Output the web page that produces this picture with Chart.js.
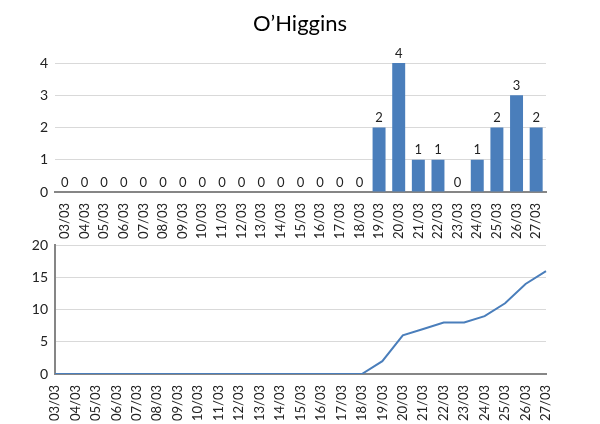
<!DOCTYPE html>
<html>
<head>
<meta charset="utf-8">
<script src="https://cdn.jsdelivr.net/npm/chart.js@4"></script>
<style>
    body { margin: 0; background: #fff; }
    #wrap { position: relative; width: 600px; height: 424px; overflow: hidden; }
    #title { position: absolute; left: 0; top: 10px; width: 600px; text-align: center;
             font: 22px Lato, sans-serif; line-height: 26px; color: #000; }
    #top { position: absolute; left: 0; top: 0; width: 600px; height: 240px; }
    #bottom { position: absolute; left: 0; top: 230px; width: 600px; height: 194px; }
</style>
</head>
<body>
<div id="wrap">
    <div id="top"><canvas id="barChart"></canvas></div>
    <div id="bottom"><canvas id="lineChart"></canvas></div>
    <div id="title">O’Higgins</div>
</div>
<script>
// Dates (day/month)
const days = [
    '03/03', '04/03', '05/03', '06/03', '07/03', '08/03', '09/03', '10/03', '11/03',
    '12/03', '13/03', '14/03', '15/03', '16/03', '17/03', '18/03', '19/03', '20/03',
    '21/03', '22/03', '23/03', '24/03', '25/03', '26/03', '27/03',
];

// New cases per day
const dailyCases = [
    0, 0, 0, 0, 0, 0, 0, 0, 0, 0, 0, 0, 0, 0, 0, 0, 2, 4, 1, 1, 0, 1, 2, 3, 2,
];

// Running total
const totalCases = [
    0, 0, 0, 0, 0, 0, 0, 0, 0, 0, 0, 0, 0, 0, 0, 0, 2, 6, 7, 8, 8, 9, 11, 14, 16,
];

const barTicks = [0, 1, 2, 3, 4];
const lineTicks = [0, 5, 10, 15, 20];

const blue = '#4a7ebb';
const gridColor = '#d9d9d9';
const axisColor = '#868686';
const textColor = '#222';
const font = 'Lato';

Chart.defaults.font.family = font;
Chart.defaults.color = textColor;

// draws the value above each bar
const barValues = {
    id: 'barValues',
    afterDatasetsDraw(chart) {
        const ctx = chart.ctx;
        const meta = chart.getDatasetMeta(0);
        ctx.save();
        ctx.font = '13px ' + font;
        ctx.fillStyle = textColor;
        ctx.textAlign = 'center';
        ctx.textBaseline = 'bottom';
        meta.data.forEach((bar, i) => {
            ctx.fillText(chart.data.datasets[0].data[i], bar.x, bar.y - 3);
        });
        ctx.restore();
    },
};

const xAxis = (height) => ({
    grid: { display: false },
    border: { display: true, color: axisColor, width: 2 },
    ticks: {
        autoSkip: false, minRotation: 90, maxRotation: 90, padding: 3,
        font: { size: 13 },
    },
    afterFit: (scale) => { scale.height = height; },
});

const yAxis = (max, step, values, showBorder) => ({
    min: 0,
    max: max,
    afterBuildTicks: (scale) => { scale.ticks = values.map((v) => ({ value: v })); },
    grid: { color: gridColor, drawTicks: false, lineWidth: 1 },
    border: { display: showBorder, color: axisColor, width: 2 },
    ticks: { stepSize: step, padding: 7, font: { size: 14 } },
    afterFit: (scale) => { scale.width = 55; },
});

new Chart(document.getElementById('barChart'), {
    type: 'bar',
    data: {
        labels: days,
        datasets: [{
            data: dailyCases,
            backgroundColor: blue,
            barPercentage: 1,
            categoryPercentage: 0.66,
        }],
    },
    options: {
        responsive: true,
        maintainAspectRatio: false,
        animation: false,
        layout: { padding: { top: 63, right: 54, left: 0, bottom: 0 } },
        plugins: { legend: { display: false }, tooltip: { enabled: false } },
        scales: {
            x: xAxis(48),
            y: yAxis(4, 1, barTicks, false),
        },
    },
    plugins: [barValues],
});

new Chart(document.getElementById('lineChart'), {
    type: 'line',
    data: {
        labels: days,
        datasets: [{
            data: totalCases,
            borderColor: blue,
            borderWidth: 2,
            pointRadius: 0,
            tension: 0,
            fill: false,
        }],
    },
    options: {
        responsive: true,
        maintainAspectRatio: false,
        animation: false,
        layout: { padding: { top: 14, right: 54, left: 0, bottom: 0 } },
        plugins: { legend: { display: false }, tooltip: { enabled: false } },
        scales: {
            x: xAxis(50),
            y: yAxis(20, 5, lineTicks, true),
        },
    },
});
</script>
</body>
</html>
